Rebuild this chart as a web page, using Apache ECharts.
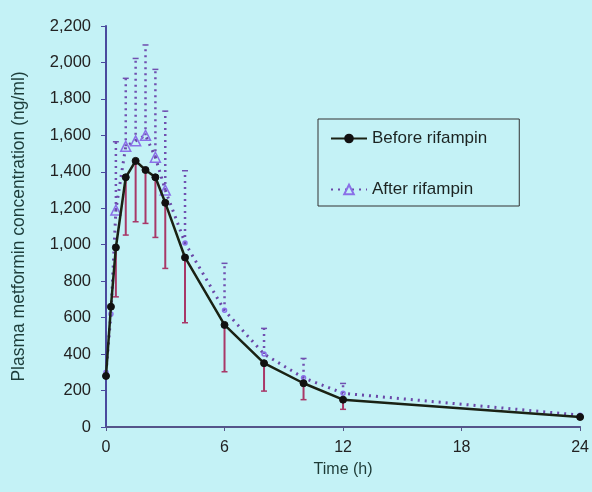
<!DOCTYPE html>
<html>
<head>
<meta charset="utf-8">
<script src="https://cdn.jsdelivr.net/npm/echarts@6/dist/echarts.min.js"></script>
<style>
html,body{margin:0;padding:0;background:#c4f2f6;}
#c{width:592px;height:492px;}
</style>
</head>
<body>
<div id="c"></div>
<script>
// Data
const timeBefore = [0, 0.25, 0.5, 1, 1.5, 2, 2.5, 3, 4, 6, 8, 10, 12, 24];
const before     = [280, 660, 985, 1370, 1460, 1410, 1370, 1230, 930, 560, 350, 240, 150, 55];
const timeErr    = [0.5, 1, 1.5, 2, 2.5, 3, 4, 6, 8, 10, 12];
const beforeLow  = [714, 1053, 1126, 1117, 1040, 870, 572, 303, 197, 150, 97];

const timeAfter  = [0, 0.25, 0.5, 1, 1.5, 2, 2.5, 3, 4, 6, 8, 10, 12, 24];
const after      = [300, 620, 1190, 1540, 1570, 1600, 1480, 1300, 1010, 640, 400, 270, 185, 65];
const afterHigh  = [1565, 1913, 2022, 2096, 1962, 1733, 1406, 898, 541, 376, 239];

const xTicks = [0, 6, 12, 18, 24];
const yMax = 2200;

const FONT = 'Liberation Sans, Arial, sans-serif';

const beforeData = timeBefore.map((t, i) => [t, before[i]]);
const afterData = timeAfter.map((t, i) => ({
  value: [t, after[i]],
  symbol: (t >= 0.5 && t <= 3) ? 'triangle' : 'circle',
  symbolSize: (t >= 0.5 && t <= 3) ? 10 : 4
}));
const beforeErrData = timeErr.map((t, i) => [t, before[timeBefore.indexOf(t)], beforeLow[i]]);
const afterErrData = timeErr.map((t, i) => [t, after[timeAfter.indexOf(t)], afterHigh[i]]);

function errRender(color, dash, width) {
  return function (params, api) {
    const p1 = api.coord([api.value(0), api.value(1)]);
    const p2 = api.coord([api.value(0), api.value(2)]);
    return {
      type: 'group',
      children: [
        { type: 'line', shape: { x1: p1[0], y1: p1[1], x2: p2[0], y2: p2[1] },
          style: { stroke: color, lineWidth: width, lineDash: dash } },
        { type: 'line', shape: { x1: p2[0] - 3, y1: p2[1], x2: p2[0] + 3, y2: p2[1] },
          style: { stroke: color, lineWidth: 1.5 } }
      ]
    };
  };
}

const chart = echarts.init(document.getElementById('c'), null, { renderer: 'canvas' });
chart.setOption({
  backgroundColor: '#c4f2f6',
  animation: false,
  grid: { left: 106, right: 9, top: 26, bottom: 65, containLabel: false },
  legend: {
    orient: 'vertical',
    left: 318, top: 119,
    padding: [11, 32, 8, 12],
    itemGap: 34,
    itemWidth: 36, itemHeight: 12,
    borderColor: '#333', borderWidth: 1,
    textStyle: { fontFamily: FONT, fontSize: 17, color: '#1c2422' },
    data: ['Before rifampin', 'After rifampin']
  },
  xAxis: {
    type: 'value', min: 0, max: 24, interval: 6,
    name: 'Time (h)', nameLocation: 'middle', nameGap: 35,
    nameTextStyle: { fontFamily: FONT, fontSize: 16, color: '#1d3a36' },
    axisLine: { lineStyle: { color: '#55558a', width: 2 } },
    axisTick: { show: true, length: 4, lineStyle: { color: '#55558a' } },
    axisLabel: { fontFamily: FONT, fontSize: 16, color: '#222', margin: 13,
      formatter: v => xTicks.includes(v) ? String(v) : '' },
    splitLine: { show: false }
  },
  yAxis: {
    type: 'value', min: 0, max: yMax, interval: 200,
    name: 'Plasma metformin concentration (ng/ml)', nameLocation: 'middle', nameGap: 78,
    nameTextStyle: { fontFamily: FONT, fontSize: 17.5, color: '#1d3d3a' },
    axisLine: { lineStyle: { color: '#4a4a9e', width: 2 } },
    axisTick: { show: true, length: 5, lineStyle: { color: '#4a4a9e' } },
    axisLabel: { fontFamily: FONT, fontSize: 16.5, color: '#222', margin: 15,
      formatter: v => v.toLocaleString('en-US') },
    splitLine: { show: false }
  },
  series: [
    {
      name: 'beforeErr', type: 'custom', renderItem: errRender('#a83868', null, 2),
      data: beforeErrData, z: 1, silent: true
    },
    {
      name: 'afterErr', type: 'custom', renderItem: errRender('#7050b0', [2, 4], 2.5),
      data: afterErrData, z: 1, silent: true
    },
    {
      name: 'After rifampin', type: 'line', data: afterData,
      symbol: 'triangle', symbolSize: 10,
      lineStyle: { color: '#6a48a8', width: 3, type: [2, 5] },
      itemStyle: { color: 'rgba(0,0,0,0)', borderColor: '#8a70e8', borderWidth: 1.5 },
      z: 2
    },
    {
      name: 'Before rifampin', type: 'line', data: beforeData,
      symbol: 'circle', symbolSize: 7,
      lineStyle: { color: '#1a2214', width: 2.5 },
      itemStyle: { color: '#111', borderColor: '#111' },
      z: 3
    }
  ]
});
</script>
</body>
</html>
